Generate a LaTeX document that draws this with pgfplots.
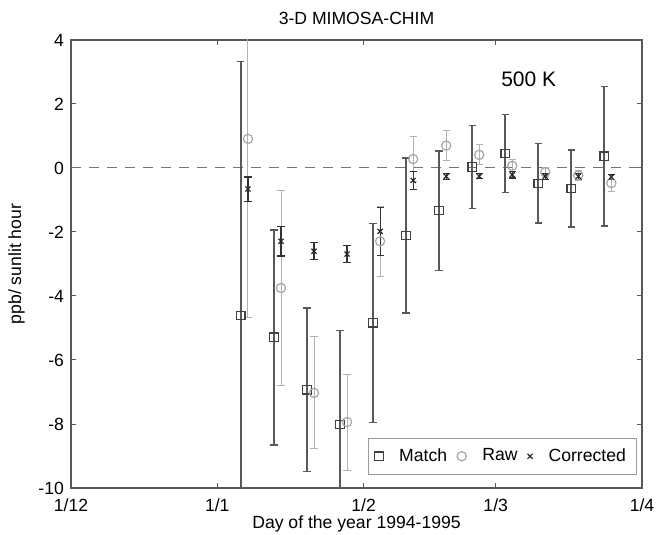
\documentclass[border=0pt]{standalone}
\usepackage{pgfplots}
\usepackage{pgfplotstable}
\pgfplotsset{compat=1.18}
\usepackage{fontspec}
\setmainfont{Liberation Sans}

% x = days since 1 December 1994
\pgfplotstableread{
x     y      e
36   -4.61  7.94
43   -5.29  3.36
50   -6.93  2.55
57   -8.02  2.94
64   -4.84  3.11
71   -2.11  2.43
78   -1.33  1.87
85    0.03  1.30
92    0.45  1.22
99   -0.48  1.24
106  -0.64  1.20
113   0.37  2.18
}\matchdata

\pgfplotstableread{
x     y      e
37.5  0.91  5.57
44.5 -3.75  3.05
51.5 -7.03  1.75
58.5 -7.94  1.50
65.5 -2.29  1.10
72.5  0.28  0.71
79.5  0.70  0.48
86.5  0.41  0.31
93.5  0.07  0.19
100.5 -0.13 0.15
107.5 -0.23 0.15
114.5 -0.47 0.27
}\rawdata

\pgfplotstableread{
x     y      e
37.5 -0.66  0.38
44.5 -2.29  0.46
51.5 -2.60  0.26
58.5 -2.69  0.26
65.5 -1.98  0.75
72.5 -0.39  0.29
79.5 -0.26  0.10
86.5 -0.26  0.08
93.5 -0.21  0.10
100.5 -0.26 0.10
107.5 -0.26 0.10
114.5 -0.28 0.08
}\corrdata

\begin{document}
\begin{tikzpicture}[font=\fontsize{8.8}{10.5}\selectfont]
\begin{axis}[
    name=ax,
    width=285.5pt, height=224pt,
    scale only axis,
    xmin=0, xmax=121,
    ymin=-10, ymax=4,
    xtick={0,31,62,90,121},
    xticklabels={1/12,1/1,1/2,1/3,1/4},
    ytick={-10,-8,...,4},
    tick align=inside,
    major tick length=2.5pt,
    axis line style={black!65, line width=0.7pt},
    every tick/.style={black!65, line width=0.5pt},
    /pgf/number format/assume math mode=true,
    xticklabel style={yshift=-2pt},
    title={3-D MIMOSA-CHIM},
    title style={yshift=-2pt},
    xlabel={Day of the year 1994-1995},
    xlabel style={yshift=5pt},
    ylabel={ppb/ sunlit hour},
    legend style={at={(0.99,0.03)}, anchor=south east, draw=black!40,
        line width=0.4pt, legend columns=-1,
        /tikz/every even column/.append style={column sep=3pt},
        /tikz/every odd column/.append style={column sep=6pt},
        inner xsep=3pt, inner ysep=3pt},
    legend image code/.code={\draw[#1] plot coordinates {(0.15cm,0cm)};},
]
\addplot[forget plot, black!55, dash pattern=on 5pt off 4pt, line width=0.5pt]
    coordinates {(0,0) (121,0)};

\addplot[only marks, mark=square, mark size=2.1pt, black!75,
    mark options={line width=0.6pt, fill=white},
    error bars/.cd, y dir=both, y explicit,
    error bar style={black!65, line width=0.8pt},
    error mark options={rotate=90, mark size=1.8pt, black!65, line width=0.8pt}]
    table[x=x, y=y, y error=e] {\matchdata};
\addlegendentry{Match}

\addplot[only marks, mark=o, mark size=2.3pt, black!35,
    mark options={line width=0.6pt},
    error bars/.cd, y dir=both, y explicit,
    error bar style={black!30, line width=0.5pt},
    error mark options={rotate=90, mark size=1.8pt, black!30, line width=0.5pt}]
    table[x=x, y=y, y error=e] {\rawdata};
\addlegendentry{Raw}

\addplot[only marks, mark=x, mark size=1.8pt, black!85,
    mark options={line width=0.6pt},
    error bars/.cd, y dir=both, y explicit,
    error bar style={black!80, line width=0.6pt},
    error mark options={rotate=90, mark size=1.8pt, black!80, line width=0.6pt}]
    table[x=x, y=y, y error=e] {\corrdata};
\addlegendentry{Corrected}

\node[font=\fontsize{10.5}{12}\selectfont] at (axis cs:97,2.76) {500 K};
\end{axis}
\pgfresetboundingbox
\path ([shift={(-35.5pt,-23pt)}]ax.south west) rectangle ([shift={(7pt,20pt)}]ax.north east);
\end{tikzpicture}
\end{document}
